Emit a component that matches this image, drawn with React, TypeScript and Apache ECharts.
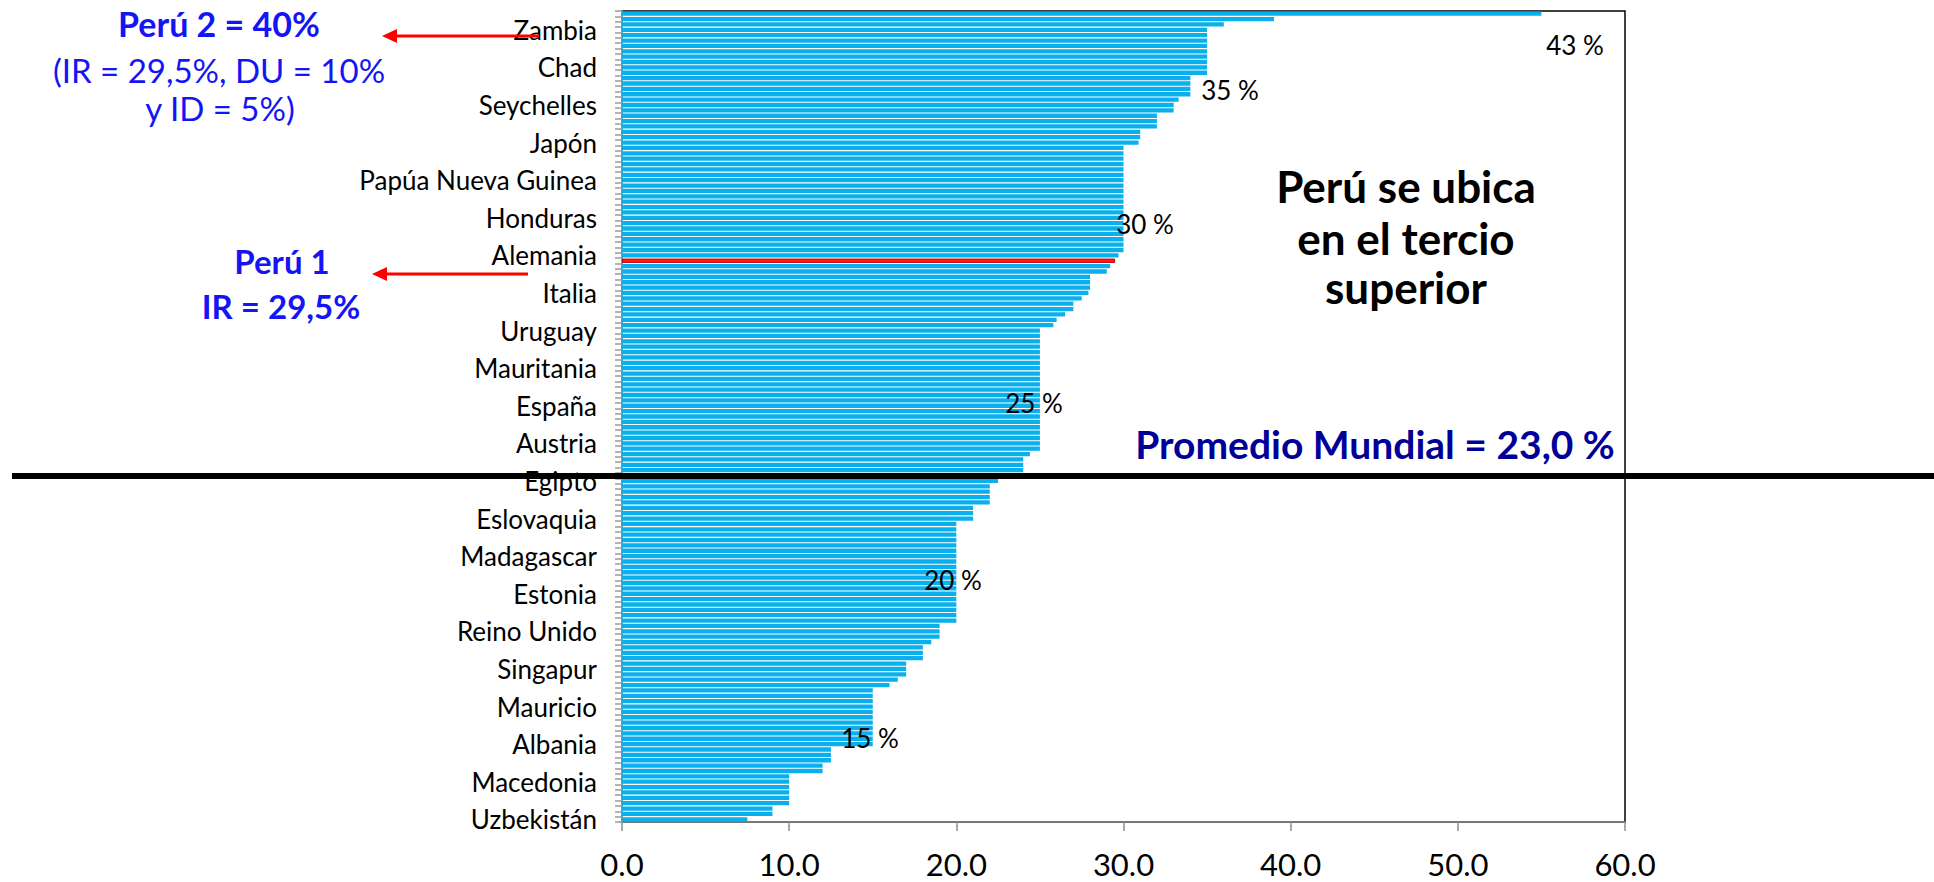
import React, { useEffect, useRef } from 'react';
import * as echarts from 'echarts';

// Categories, top to bottom (only every 7th country is named on the axis)
const countries: string[] = [
  '', '', '',
  'Zambia', '', '', '', '', '', '',
  'Chad', '', '', '', '', '', '',
  'Seychelles', '', '', '', '', '', '',
  'Japón', '', '', '', '', '', '',
  'Papúa Nueva Guinea', '', '', '', '', '', '',
  'Honduras', '', '', '', '', '', '',
  'Alemania', 'Perú', '', '', '', '', '',
  'Italia', '', '', '', '', '', '',
  'Uruguay', '', '', '', '', '', '',
  'Mauritania', '', '', '', '', '', '',
  'España', '', '', '', '', '', '',
  'Austria', '', '', '', '', '', '',
  'Egipto', '', '', '', '', '', '',
  'Eslovaquia', '', '', '', '', '', '',
  'Madagascar', '', '', '', '', '', '',
  'Estonia', '', '', '', '', '', '',
  'Reino Unido', '', '', '', '', '', '',
  'Singapur', '', '', '', '', '', '',
  'Mauricio', '', '', '', '', '', '',
  'Albania', '', '', '', '', '', '',
  'Macedonia', '', '', '', '', '', '',
  'Uzbekistán',
];

// Rates (%), top to bottom, aligned with countries
const rates: number[] = [
  55, 39, 36,
  35, 35, 35, 35, 35, 35, 35,
  35, 35, 34, 34, 34, 34, 33.3,
  33, 33, 32, 32, 32, 31, 31,
  30.9, 30, 30, 30, 30, 30, 30,
  30, 30, 30, 30, 30, 30, 30,
  30, 30, 30, 30, 30, 30, 30,
  29.7, 29.5, 29.2, 29.0, 28, 28, 28,
  27.9, 27.5, 27, 27, 26.5, 26, 25.8,
  25, 25, 25, 25, 25, 25, 25,
  25, 25, 25, 25, 25, 25, 25,
  25, 25, 25, 25, 25, 25, 25,
  25, 25, 24.4, 24, 24, 24, 24,
  22.5, 22, 22, 22, 22, 21, 21,
  21, 20, 20, 20, 20, 20, 20,
  20, 20, 20, 20, 20, 20, 20,
  20, 20, 20, 20, 20, 20, 19,
  19, 19, 18.5, 18, 18, 18, 17,
  17, 17, 16.5, 16, 15, 15, 15,
  15, 15, 15, 15, 15, 15, 15,
  15, 12.5, 12.5, 12.5, 12, 12, 10,
  10, 10, 10, 10, 10, 9, 9,
  7.5,
];

const labelledCountries = [
  'Zambia', 'Chad', 'Seychelles', 'Japón', 'Papúa Nueva Guinea', 'Honduras',
  'Alemania', 'Italia', 'Uruguay', 'Mauritania', 'España', 'Austria', 'Egipto',
  'Eslovaquia', 'Madagascar', 'Estonia', 'Reino Unido', 'Singapur', 'Mauricio',
  'Albania', 'Macedonia', 'Uzbekistán',
];
const highlightCountry = 'Perú';

const xMin = 0;
const xMax = 60;
const xStep = 10;

const FONT = 'Lato, "Open Sans", sans-serif';

export default function App() {
  const ref = useRef<HTMLDivElement>(null);

  useEffect(() => {
    if (!ref.current) return;
    const chart = echarts.init(ref.current, undefined, { renderer: 'svg' });

    const data = rates.map((v, i) =>
      countries[i] === highlightCountry
        ? { value: v, itemStyle: { color: '#FF1A1A', borderColor: '#C00000', borderWidth: 1 } }
        : v
    );

    const blue = '#1414F5';
    const txt = (text: string, x: number, y: number, size: number, color: string, weight: string = 'normal') => ({
      type: 'text',
      z: 120,
      style: {
        text,
        x,
        y,
        fill: color,
        fontSize: size,
        fontWeight: weight,
        fontFamily: FONT,
        align: 'center',
        verticalAlign: 'middle',
      },
    });

    const arrow = (x1: number, x2: number, y: number) => [
      {
        type: 'line',
        z: 120,
        shape: { x1, y1: y, x2: x2 + 12, y2: y },
        style: { stroke: '#FF0000', lineWidth: 3 },
      },
      {
        type: 'polygon',
        z: 120,
        shape: { points: [[x2, y], [x2 + 15, y - 7], [x2 + 15, y + 7]] },
        style: { fill: '#FF0000' },
      },
    ];

    chart.setOption({
      animation: false,
      backgroundColor: '#fff',
      grid: {
        left: 622,
        right: 309,
        top: 11,
        bottom: 60,
        show: true,
        borderColor: '#000',
        borderWidth: 1.5,
        backgroundColor: 'transparent',
      },
      xAxis: {
        type: 'value',
        min: xMin,
        max: xMax,
        interval: xStep,
        axisLine: { show: true, lineStyle: { color: '#8C8C8C', width: 1.5 } },
        axisTick: { show: true, length: 9, lineStyle: { color: '#8C8C8C', width: 1.5 } },
        splitLine: { show: false },
        axisLabel: {
          formatter: (v: number) => v.toFixed(1),
          fontSize: 31,
          fontFamily: FONT,
          color: '#000',
          margin: 26,
        },
      },
      yAxis: {
        type: 'category',
        inverse: true,
        data: countries,
        axisLine: { show: true, lineStyle: { color: '#8C8C8C', width: 2 } },
        axisTick: { show: true, interval: 0, length: 7, lineStyle: { color: '#9A9A9A', width: 1.5 } },
        axisLabel: {
          interval: (_i: number, name: string) => labelledCountries.includes(name),
          fontSize: 26,
          fontFamily: FONT,
          color: '#000',
          margin: 25,
        },
      },
      series: [
        {
          type: 'bar',
          data,
          barCategoryGap: '20%',
          itemStyle: { color: '#0AAFEE' },
        },
      ],
      graphic: [
        {
          type: 'line',
          z: 110,
          shape: { x1: 12, y1: 476, x2: 1934, y2: 476 },
          style: { stroke: '#000', lineWidth: 6 },
        },
        ...arrow(539, 382, 36),
        ...arrow(528, 372, 274),
        txt('Perú 2 = 40%', 219, 23, 34, blue, 'bold'),
        txt('(IR = 29,5%, DU = 10%', 219, 70, 33, blue),
        txt('y ID = 5%)', 220, 108, 33, blue),
        txt('Perú 1', 282, 261, 33, blue, 'bold'),
        txt('IR = 29,5%', 281, 306, 33, blue, 'bold'),
        txt('Perú se ubica', 1406, 186, 44, '#000', 'bold'),
        txt('en el tercio', 1406, 238, 44, '#000', 'bold'),
        txt('superior', 1406, 287, 44, '#000', 'bold'),
        txt('Promedio Mundial = 23,0 %', 1375, 444, 39, '#000099', 'bold'),
        txt('43 %', 1575, 45, 26, '#000'),
        txt('35 %', 1230, 90, 26, '#000'),
        txt('30 %', 1145, 224, 26, '#000'),
        txt('25 %', 1034, 403, 26, '#000'),
        txt('20 %', 953, 580, 26, '#000'),
        txt('15 %', 870, 738, 26, '#000'),
      ],
    });

    return () => chart.dispose();
  }, []);

  return (
    <div
      ref={ref}
      style={{ position: 'fixed', left: 0, top: 0, width: 1934, height: 882, background: '#fff' }}
    />
  );
}
